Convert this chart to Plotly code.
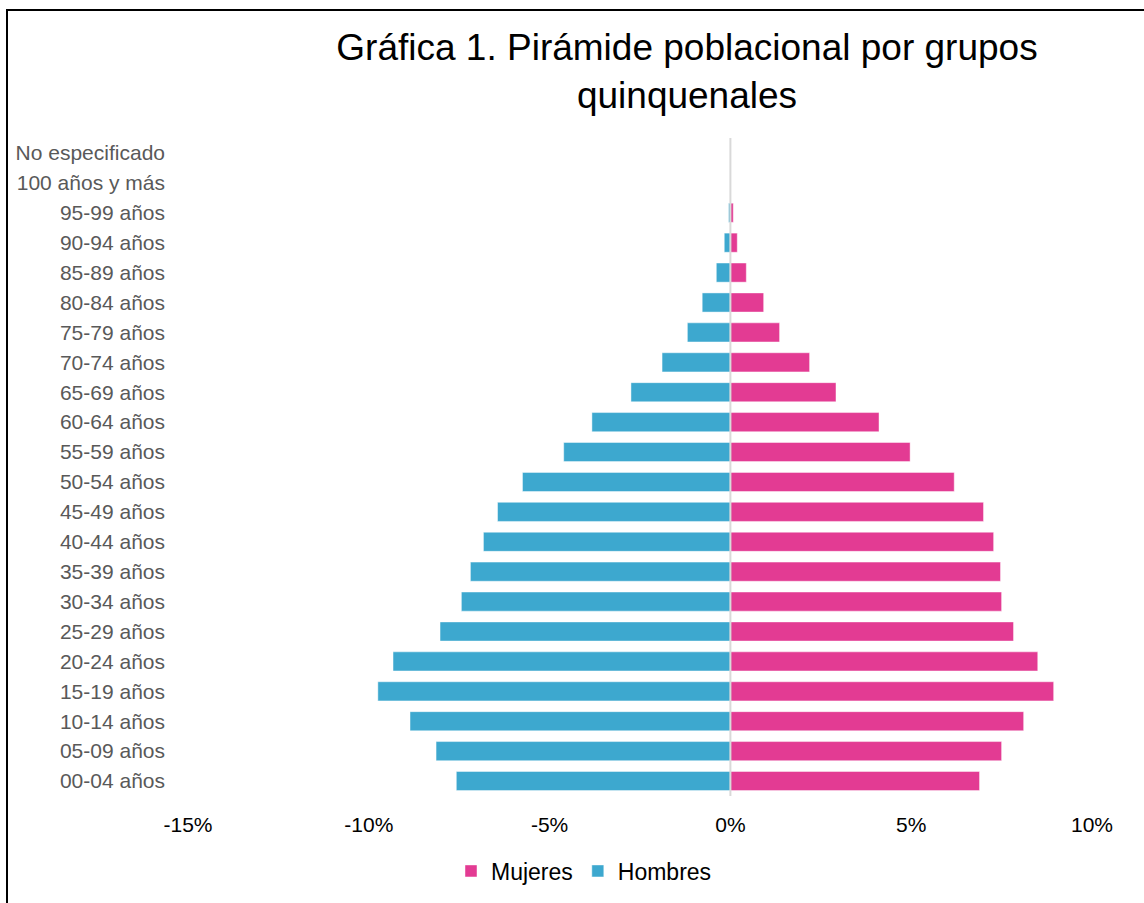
import plotly.graph_objects as go

grupos = ["00-04 años", "05-09 años", "10-14 años", "15-19 años", "20-24 años",
          "25-29 años", "30-34 años", "35-39 años", "40-44 años", "45-49 años",
          "50-54 años", "55-59 años", "60-64 años", "65-69 años", "70-74 años",
          "75-79 años", "80-84 años", "85-89 años", "90-94 años", "95-99 años",
          "100 años y más", "No especificado"]

hombres = [7.58, 8.14, 8.86, 9.75, 9.33, 8.03, 7.44, 7.19, 6.83, 6.44,
           5.75, 4.61, 3.83, 2.75, 1.89, 1.19, 0.78, 0.39, 0.17, 0.05,
           0.01, 0.0]
mujeres = [6.89, 7.50, 8.11, 8.94, 8.50, 7.83, 7.50, 7.47, 7.28, 7.00,
           6.19, 4.97, 4.11, 2.92, 2.19, 1.36, 0.92, 0.44, 0.19, 0.08,
           0.01, 0.0]

x_ticks = [-15, -10, -5, 0, 5, 10]
x_tick_labels = ["-15%", "-10%", "-5%", "0%", "5%", "10%"]

PINK = "#E33B93"
BLUE = "#3DA8CF"
FONT = "Liberation Sans, Arial, sans-serif"

fig = go.Figure()
fig.add_trace(go.Bar(
    y=grupos, x=mujeres, orientation="h", name="Mujeres",
    marker=dict(color=PINK, line=dict(color="rgba(255,255,255,0.45)", width=1)),
))
fig.add_trace(go.Bar(
    y=grupos, x=[-v for v in hombres], orientation="h", name="Hombres",
    marker=dict(color=BLUE, line=dict(color="rgba(255,255,255,0.45)", width=1)),
))

W, H = 1144, 903
ml, mr, mt, mb = 188, 52, 138, 107
pw, ph = W - ml - mr, H - mt - mb

def px(xp):
    return (xp - ml) / pw

def py(yp):
    return (H - mb - yp) / ph

fig.update_layout(
    width=W, height=H,
    margin=dict(l=ml, r=mr, t=mt, b=mb, pad=0),
    paper_bgcolor="white", plot_bgcolor="white",
    barmode="relative", bargap=0.36,
    font=dict(family=FONT, color="black"),
    title=dict(
        text="Gráfica 1. Pirámide poblacional por grupos<br>quinquenales",
        font=dict(size=37, color="black", family=FONT),
        x=687 / W, xanchor="center", xref="container",
        y=1 - 60 / H, yanchor="middle", yref="container",
    ),
    xaxis=dict(
        range=[-15, 10], tickvals=x_ticks, ticktext=x_tick_labels,
        showgrid=False, showline=False, zeroline=False,
        tickfont=dict(size=21, color="black"), ticks="", ticklabelstandoff=14,
        fixedrange=True,
    ),
    yaxis=dict(
        categoryorder="array", categoryarray=grupos,
        range=[-0.5, len(grupos) - 0.5],
        showgrid=False, showline=False, zeroline=False, ticks="",
        tickfont=dict(size=21, color="#595959"), ticklabelstandoff=22,
        fixedrange=True,
    ),
    legend=dict(
        orientation="h", traceorder="normal",
        x=584 / W, xanchor="center", xref="container",
        y=1 - 871 / H, yanchor="middle", yref="container",
        font=dict(size=23, color="black"),
        itemwidth=30, tracegroupgap=0,
    ),
    showlegend=True,
    shapes=[
        dict(type="line", xref="x", yref="paper", x0=0, x1=0, y0=0, y1=1,
             line=dict(color="#D9D9D9", width=2), layer="above"),
        dict(type="rect", xref="paper", yref="paper",
             x0=px(7), x1=px(W + 20), y0=py(H + 20), y1=py(10),
             line=dict(color="black", width=2), fillcolor="rgba(0,0,0,0)",
             layer="above"),
    ],
)

fig.write_html("out.html", config={"displayModeBar": False},
               post_script="document.body.style.margin='0px';")
